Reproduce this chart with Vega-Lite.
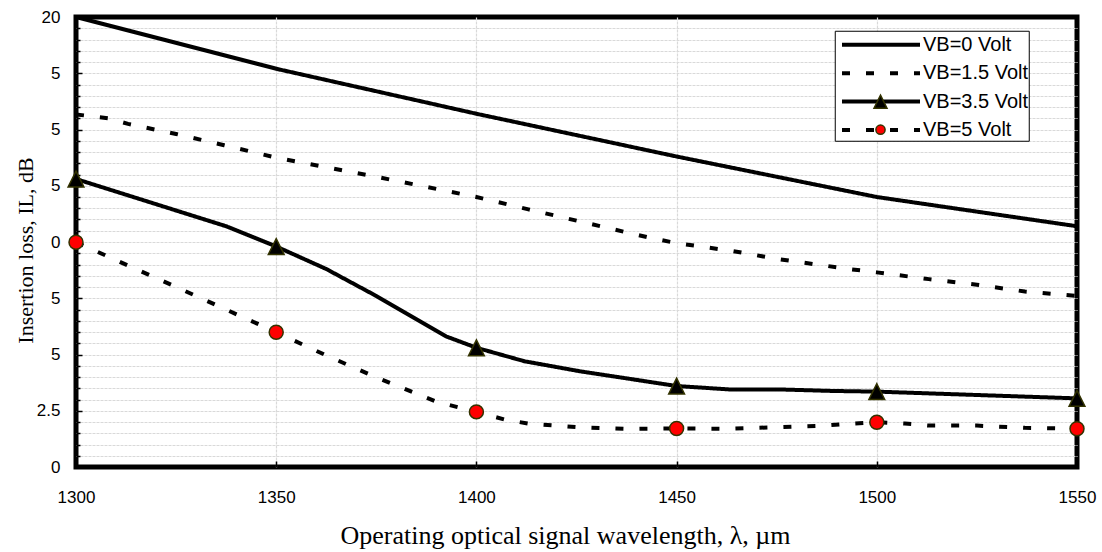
{
  "$schema": "https://vega.github.io/schema/vega-lite/v6.json",
  "width": 1001,
  "height": 450,
  "autosize": {"type": "none"},
  "padding": {"left": 76, "top": 17, "right": 25, "bottom": 85},
  "background": "white",
  "config": {
    "view": {"stroke": "black", "strokeWidth": 5, "fill": "white"},
    "axis": {
      "labelFont": "Liberation Sans",
      "labelFontSize": 17,
      "labelColor": "black",
      "titleFont": "Liberation Serif",
      "titleFontWeight": "normal",
      "titleColor": "black",
      "domain": false,
      "tickColor": "black",
      "tickWidth": 1.5,
      "gridWidth": 1.2,
      "gridDash": [3, 1]
    }
  },
  "datasets": {
    "lines": [
      {"wl": 1300, "il": 20.0, "series": "VB=0 Volt"},
      {"wl": 1350, "il": 17.7, "series": "VB=0 Volt"},
      {"wl": 1400, "il": 15.7, "series": "VB=0 Volt"},
      {"wl": 1450, "il": 13.8, "series": "VB=0 Volt"},
      {"wl": 1500, "il": 12.0, "series": "VB=0 Volt"},
      {"wl": 1550, "il": 10.7, "series": "VB=0 Volt"},
      {"wl": 1300, "il": 15.67, "series": "VB=1.5 Volt"},
      {"wl": 1308, "il": 15.5, "series": "VB=1.5 Volt"},
      {"wl": 1313, "il": 15.25, "series": "VB=1.5 Volt"},
      {"wl": 1325, "il": 14.8, "series": "VB=1.5 Volt"},
      {"wl": 1337, "il": 14.3, "series": "VB=1.5 Volt"},
      {"wl": 1350, "il": 13.75, "series": "VB=1.5 Volt"},
      {"wl": 1375, "il": 12.9, "series": "VB=1.5 Volt"},
      {"wl": 1400, "il": 12.0, "series": "VB=1.5 Volt"},
      {"wl": 1413, "il": 11.45, "series": "VB=1.5 Volt"},
      {"wl": 1425, "il": 10.95, "series": "VB=1.5 Volt"},
      {"wl": 1443, "il": 10.2, "series": "VB=1.5 Volt"},
      {"wl": 1450, "il": 9.95, "series": "VB=1.5 Volt"},
      {"wl": 1464, "il": 9.6, "series": "VB=1.5 Volt"},
      {"wl": 1475, "il": 9.25, "series": "VB=1.5 Volt"},
      {"wl": 1493, "il": 8.8, "series": "VB=1.5 Volt"},
      {"wl": 1500, "il": 8.65, "series": "VB=1.5 Volt"},
      {"wl": 1513, "il": 8.35, "series": "VB=1.5 Volt"},
      {"wl": 1525, "il": 8.1, "series": "VB=1.5 Volt"},
      {"wl": 1537, "il": 7.8, "series": "VB=1.5 Volt"},
      {"wl": 1550, "il": 7.6, "series": "VB=1.5 Volt"},
      {"wl": 1300, "il": 12.8, "series": "VB=3.5 Volt"},
      {"wl": 1337.5, "il": 10.7, "series": "VB=3.5 Volt"},
      {"wl": 1350, "il": 9.8, "series": "VB=3.5 Volt"},
      {"wl": 1362.5, "il": 8.8, "series": "VB=3.5 Volt"},
      {"wl": 1375, "il": 7.6, "series": "VB=3.5 Volt"},
      {"wl": 1392.5, "il": 5.8, "series": "VB=3.5 Volt"},
      {"wl": 1400, "il": 5.3, "series": "VB=3.5 Volt"},
      {"wl": 1412, "il": 4.7, "series": "VB=3.5 Volt"},
      {"wl": 1426, "il": 4.25, "series": "VB=3.5 Volt"},
      {"wl": 1450, "il": 3.6, "series": "VB=3.5 Volt"},
      {"wl": 1463, "il": 3.45, "series": "VB=3.5 Volt"},
      {"wl": 1475, "il": 3.45, "series": "VB=3.5 Volt"},
      {"wl": 1489, "il": 3.38, "series": "VB=3.5 Volt"},
      {"wl": 1500, "il": 3.35, "series": "VB=3.5 Volt"},
      {"wl": 1550, "il": 3.05, "series": "VB=3.5 Volt"},
      {"wl": 1300, "il": 9.99, "series": "VB=5 Volt"},
      {"wl": 1325, "il": 8.0, "series": "VB=5 Volt"},
      {"wl": 1350, "il": 5.99, "series": "VB=5 Volt"},
      {"wl": 1362, "il": 5.0, "series": "VB=5 Volt"},
      {"wl": 1375, "il": 3.98, "series": "VB=5 Volt"},
      {"wl": 1390, "il": 2.9, "series": "VB=5 Volt"},
      {"wl": 1400, "il": 2.45, "series": "VB=5 Volt"},
      {"wl": 1407, "il": 2.11, "series": "VB=5 Volt"},
      {"wl": 1413, "il": 1.93, "series": "VB=5 Volt"},
      {"wl": 1425, "il": 1.77, "series": "VB=5 Volt"},
      {"wl": 1437, "il": 1.7, "series": "VB=5 Volt"},
      {"wl": 1450, "il": 1.71, "series": "VB=5 Volt"},
      {"wl": 1463, "il": 1.7, "series": "VB=5 Volt"},
      {"wl": 1475, "il": 1.77, "series": "VB=5 Volt"},
      {"wl": 1487, "il": 1.84, "series": "VB=5 Volt"},
      {"wl": 1493, "il": 1.92, "series": "VB=5 Volt"},
      {"wl": 1500, "il": 1.99, "series": "VB=5 Volt"},
      {"wl": 1507, "il": 1.93, "series": "VB=5 Volt"},
      {"wl": 1513, "il": 1.84, "series": "VB=5 Volt"},
      {"wl": 1525, "il": 1.84, "series": "VB=5 Volt"},
      {"wl": 1537, "il": 1.74, "series": "VB=5 Volt"},
      {"wl": 1550, "il": 1.7, "series": "VB=5 Volt"}
    ]
  },
  "data": {"name": "lines"},
  "encoding": {
    "x": {
      "field": "wl",
      "type": "quantitative",
      "scale": {"domain": [1300, 1550], "nice": false, "zero": false},
      "axis": {
        "title": "Operating optical signal wavelength, λ, µm",
        "titleFontSize": 26,
        "titlePadding": 17,
        "titleX": 489,
        "values": [1300, 1350, 1400, 1450, 1500, 1550],
        "format": "d",
        "labelFlush": false,
        "labelOverlap": false,
        "tickSize": -6,
        "labelPadding": 28.6,
        "grid": true,
        "gridColor": {"condition": {"test": "datum.value == 1300 || datum.value == 1550", "value": "transparent"}, "value": "#d9d9d9"}
      }
    },
    "y": {
      "field": "il",
      "type": "quantitative",
      "scale": {"domain": [0, 20], "nice": false},
      "axis": {
        "title": "Insertion loss, IL, dB",
        "titleFontSize": 22,
        "titlePadding": -1,
        "titleY": 233,
        "values": [0, 0.5, 1, 1.5, 2, 2.5, 3, 3.5, 4, 4.5, 5, 5.5, 6, 6.5, 7, 7.5, 8, 8.5, 9, 9.5, 10, 10.5, 11, 11.5, 12, 12.5, 13, 13.5, 14, 14.5, 15, 15.5, 16, 16.5, 17, 17.5, 18, 18.5, 19, 19.5, 20],
        "labelExpr": "datum.value == 20 ? '20' : datum.value == 2.5 ? '2.5' : datum.value == 0 ? '0' : datum.value == 10 ? '0' : datum.value % 2.5 == 0 ? '5' : ''",
        "labelOverlap": false,
        "tickSize": {"condition": {"test": "datum.value % 2.5 == 0", "value": -6}, "value": -4},
        "labelPadding": 22,
        "grid": true,
        "gridColor": {"condition": {"test": "datum.value == 0 || datum.value == 20", "value": "transparent"}, "value": "#d9d9d9"}
      }
    }
  },
  "layer": [
    {
      "mark": {"type": "line", "color": "black", "strokeWidth": 4, "strokeCap": "butt"},
      "encoding": {
        "strokeDash": {
          "field": "series",
          "type": "nominal",
          "scale": {
            "domain": ["VB=0 Volt", "VB=1.5 Volt", "VB=3.5 Volt", "VB=5 Volt"],
            "range": [[1, 0], [8, 16], [1, 0], [8, 16]]
          },
          "legend": {
            "title": null,
            "orient": "none",
            "legendX": 758.75,
            "legendY": 13.75,
            "padding": 0,
            "rowPadding": 4.4,
            "symbolType": "M-0.5625,0L5.9375,0",
            "symbolSize": 576,
            "symbolStrokeWidth": 4,
            "symbolStrokeColor": "black",
            "labelOffset": 60.25,
            "labelFont": "Liberation Sans",
            "labelFontSize": 20,
            "labelColor": "black",
            "labelLimit": 300,
            "strokeColor": "black",
            "fillColor": "white",
            "encode": {
              "legend": {"strokeWidth": {"value": 3.5}}
            }
          }
        }
      }
    },
    {
      "transform": [{"filter": "datum.series == 'VB=3.5 Volt' && datum.wl % 50 == 0"}],
      "mark": {"type": "point", "size": 148, "filled": true, "stroke": "#333300", "strokeWidth": 1.5, "opacity": 1},
      "encoding": {
        "fill": {
          "field": "series",
          "type": "nominal",
          "scale": {"domain": ["VB=3.5 Volt", "VB=5 Volt"], "range": ["#000000", "#ff0000"]},
          "legend": {
            "title": null,
            "orient": "none",
            "legendX": 790.5,
            "legendY": 70.7,
            "padding": 0,
            "rowPadding": 0,
            "symbolSize": 100,
            "symbolStrokeWidth": 1.5,
            "labelExpr": "''",
            "labelFontSize": 28,
            "encode": {
              "symbols": {
                "stroke": {"value": "#333300"},
                "strokeWidth": {"value": 1.5},
                "opacity": {"value": 1}
              }
            }
          }
        },
        "shape": {
          "field": "series",
          "type": "nominal",
          "scale": {
            "domain": ["VB=3.5 Volt", "VB=5 Volt"],
            "range": ["M0,-1.3L1.3,1.3L-1.3,1.3Z", "M0.92,0A0.92,0.92,0,1,1,-0.92,0A0.92,0.92,0,1,1,0.92,0Z"]
          },
          "legend": {
            "title": null,
            "orient": "none",
            "legendX": 790.5,
            "legendY": 70.7,
            "padding": 0,
            "rowPadding": 0,
            "symbolSize": 100,
            "symbolStrokeWidth": 1.5,
            "labelExpr": "''",
            "labelFontSize": 28
          }
        }
      }
    },
    {
      "transform": [{"filter": "datum.series == 'VB=5 Volt' && datum.wl % 50 == 0"}],
      "mark": {"type": "point", "size": 231, "filled": true, "stroke": "#333300", "strokeWidth": 1.5, "opacity": 1},
      "encoding": {
        "fill": {"field": "series", "type": "nominal"},
        "shape": {"field": "series", "type": "nominal"}
      }
    }
  ]
}
